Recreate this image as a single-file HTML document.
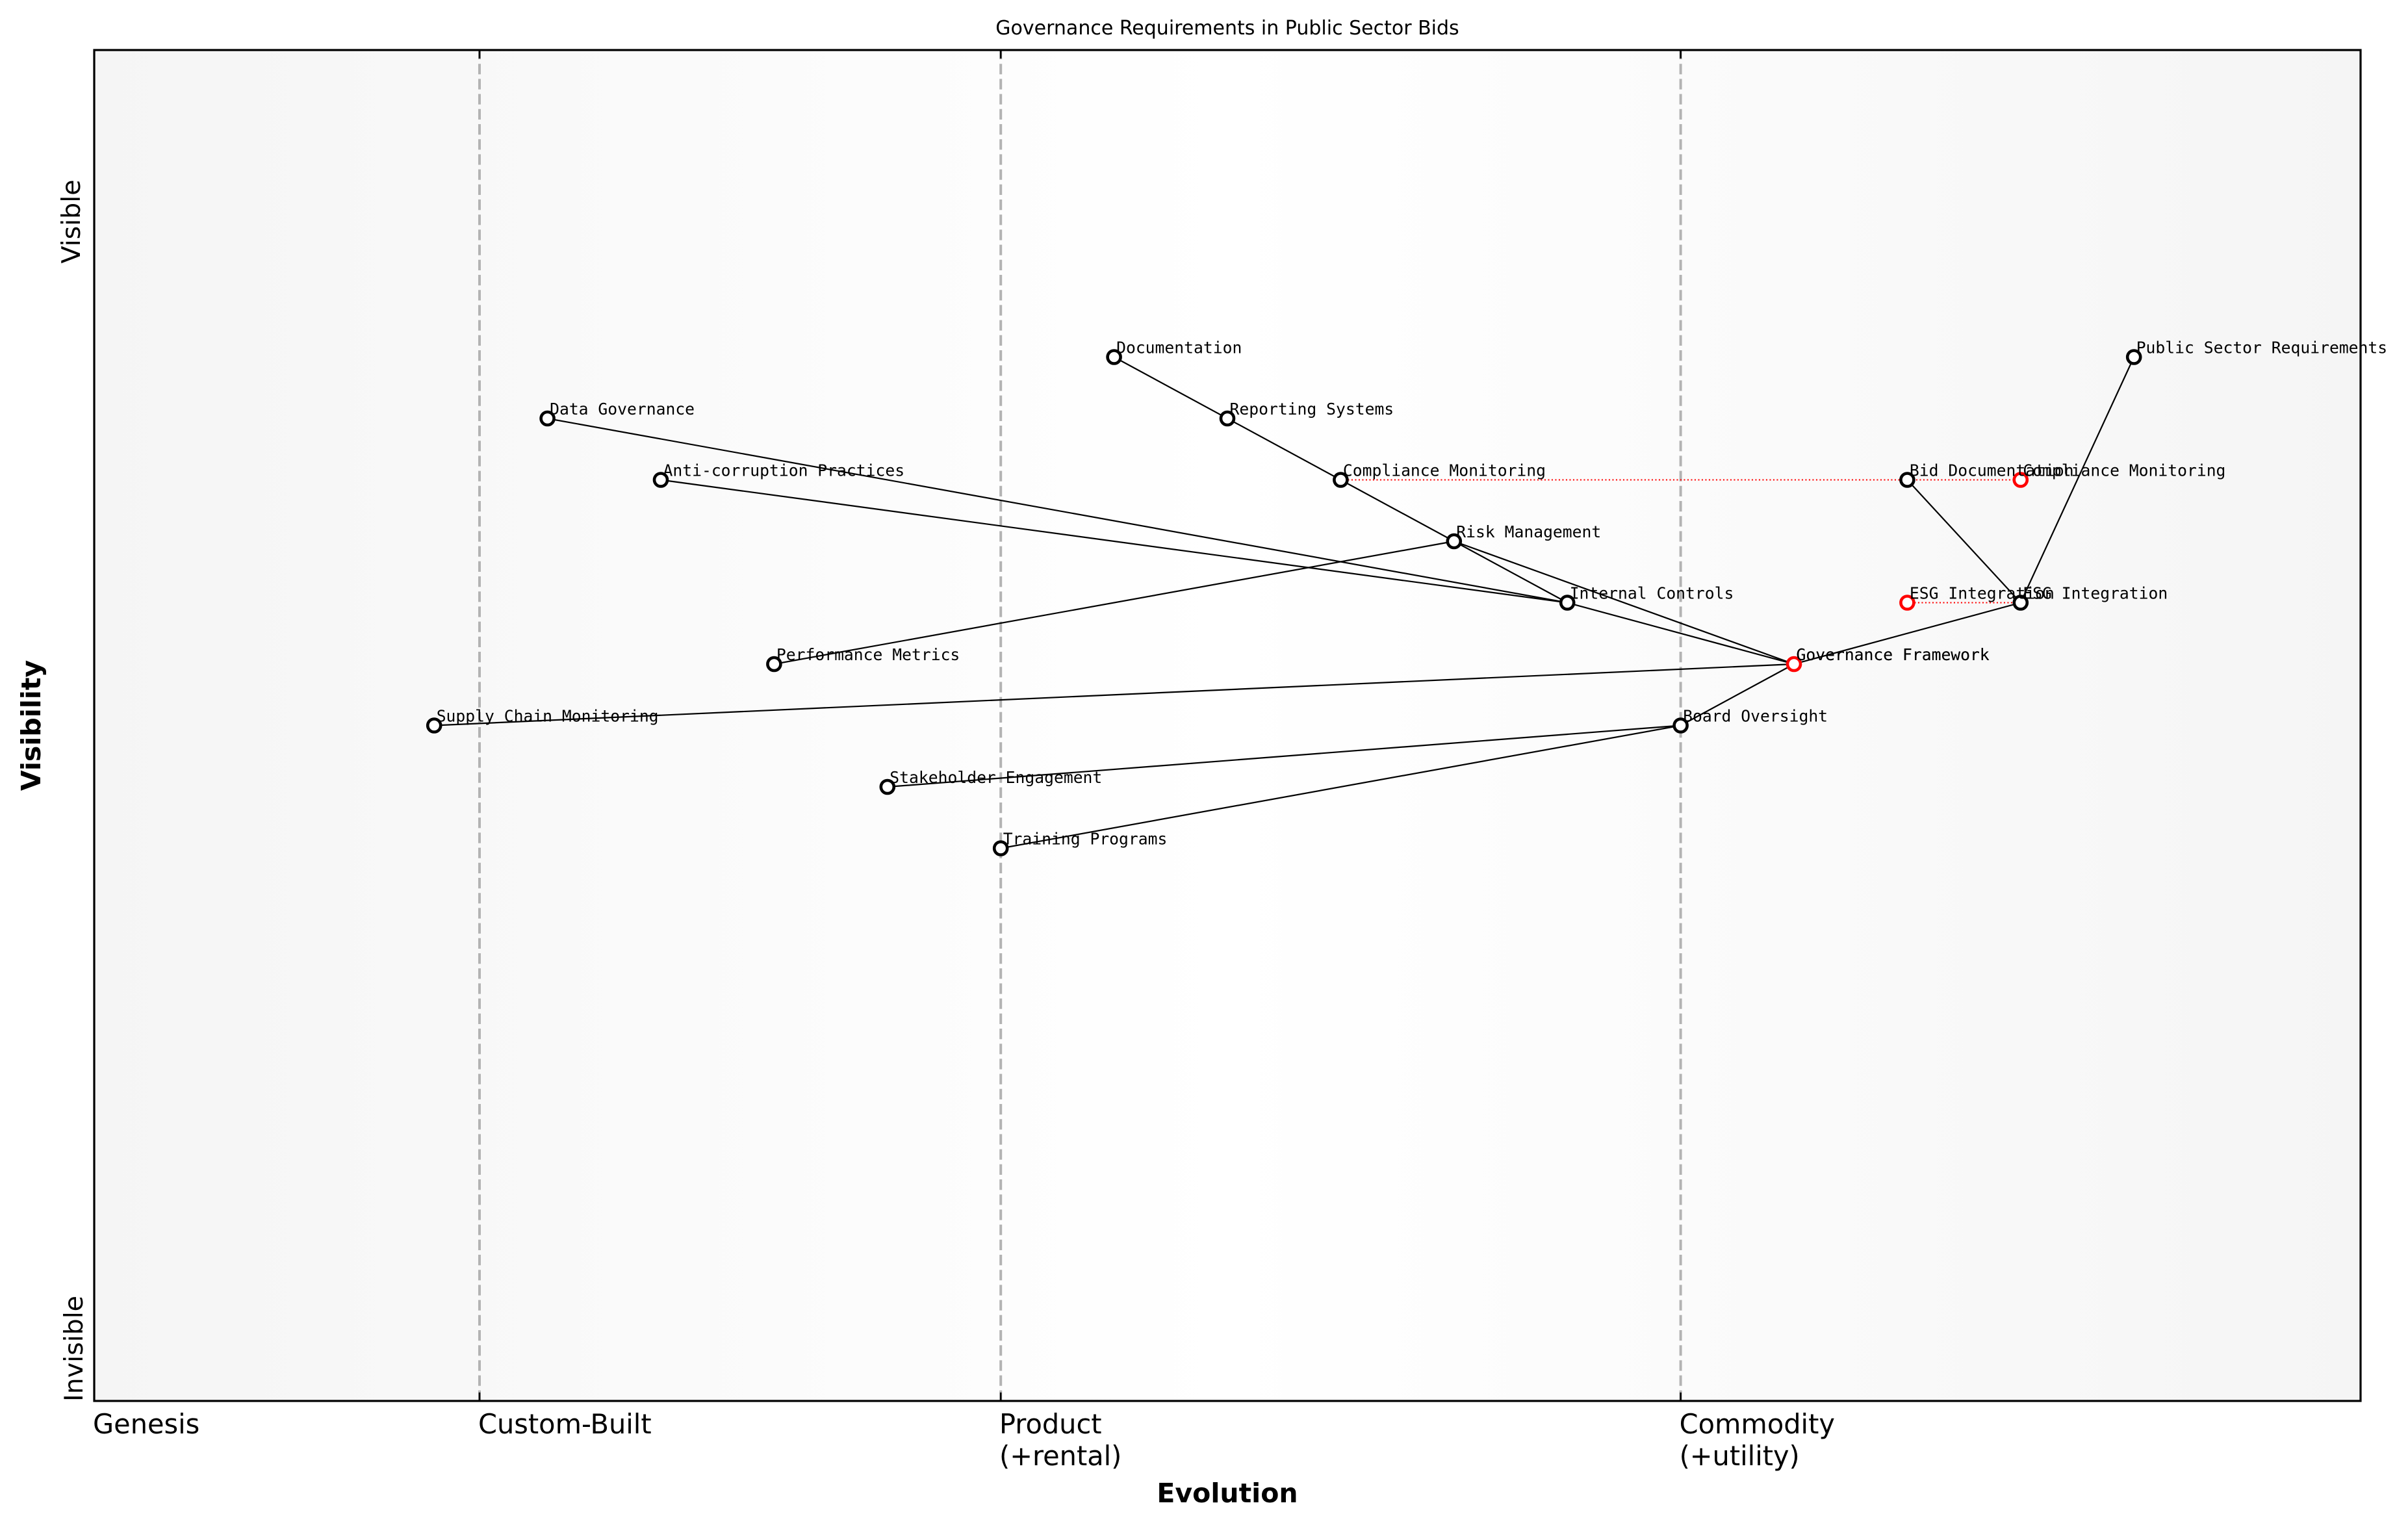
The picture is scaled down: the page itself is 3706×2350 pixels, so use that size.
<!DOCTYPE html>
<html>
<head>
<meta charset="utf-8">
<style>
  html, body { margin: 0; padding: 0; background: #ffffff; }
  svg { display: block; }
  .lbl { font-family: "DejaVu Sans Mono", "Liberation Mono", monospace; font-size: 24.7px; fill: #000; }
  .tick { font-family: "DejaVu Sans", "Liberation Sans", sans-serif; font-size: 41.5px; fill: #000; }
</style>
</head>
<body>
<svg width="3706" height="2350" viewBox="0 0 3706 2350" xmlns="http://www.w3.org/2000/svg">
  <defs>
    <linearGradient id="bg" x1="0" y1="0" x2="1" y2="0">
      <stop offset="0" stop-color="#f5f5f5"/>
      <stop offset="0.5" stop-color="#ffffff"/>
      <stop offset="1" stop-color="#f5f5f5"/>
    </linearGradient>
  </defs>
  <rect x="0" y="0" width="3706" height="2350" fill="#ffffff"/>
  <!-- plot background -->
  <rect x="145" y="77" width="3488" height="2079" fill="url(#bg)"/>

  <!-- evolution stage dashed lines -->
  <g stroke="#b3b3b3" stroke-width="4" stroke-dasharray="16.2 7" fill="none">
    <line x1="738" y1="2156" x2="738" y2="77"/>
    <line x1="1540.2" y1="2156" x2="1540.2" y2="77"/>
    <line x1="2586.6" y1="2156" x2="2586.6" y2="77"/>
  </g>

  <!-- dependency edges -->
  <g stroke="#000" stroke-width="2.2" fill="none" stroke-linecap="butt">
    <line x1="1714.6" y1="549.5" x2="1889" y2="644"/>
    <line x1="1889" y1="644" x2="2063.4" y2="738.5"/>
    <line x1="2063.4" y1="738.5" x2="2237.8" y2="833"/>
    <line x1="2237.8" y1="833" x2="2412.2" y2="927.5"/>
    <line x1="2237.8" y1="833" x2="2761" y2="1022"/>
    <line x1="2412.2" y1="927.5" x2="2761" y2="1022"/>
    <line x1="842.6" y1="644" x2="2412.2" y2="927.5"/>
    <line x1="1017" y1="738.5" x2="2412.2" y2="927.5"/>
    <line x1="1191.4" y1="1022" x2="2237.8" y2="833"/>
    <line x1="668.2" y1="1116.5" x2="2761" y2="1022"/>
    <line x1="1365.8" y1="1211" x2="2586.6" y2="1116.5"/>
    <line x1="1540.2" y1="1305.5" x2="2586.6" y2="1116.5"/>
    <line x1="2586.6" y1="1116.5" x2="2761" y2="1022"/>
    <line x1="2761" y1="1022" x2="3109.8" y2="927.5"/>
    <line x1="3109.8" y1="927.5" x2="3284.2" y2="549.5"/>
    <line x1="2935.4" y1="738.5" x2="3109.8" y2="927.5"/>
  </g>

  <!-- evolution (red dotted) -->
  <g stroke="#ff0000" stroke-width="2.1" stroke-dasharray="2.1 3.4" fill="none">
    <line x1="2063.4" y1="738.5" x2="3109.8" y2="738.5"/>
    <line x1="2935.4" y1="927.5" x2="3109.8" y2="927.5"/>
  </g>

  <!-- markers -->
  <g fill="#ffffff" stroke="#000" stroke-width="4.6">
    <circle cx="1714.6" cy="549.5" r="10"/>
    <circle cx="1889" cy="644" r="10"/>
    <circle cx="2063.4" cy="738.5" r="10"/>
    <circle cx="2237.8" cy="833" r="10"/>
    <circle cx="2412.2" cy="927.5" r="10"/>
    <circle cx="2586.6" cy="1116.5" r="10"/>
    <circle cx="842.6" cy="644" r="10"/>
    <circle cx="1017" cy="738.5" r="10"/>
    <circle cx="1191.4" cy="1022" r="10"/>
    <circle cx="668.2" cy="1116.5" r="10"/>
    <circle cx="1365.8" cy="1211" r="10"/>
    <circle cx="1540.2" cy="1305.5" r="10"/>
    <circle cx="2935.4" cy="738.5" r="10"/>
    <circle cx="3109.8" cy="927.5" r="10"/>
    <circle cx="3284.2" cy="549.5" r="10"/>
  </g>
  <g fill="#ffffff" stroke="#ff0000" stroke-width="4.6">
    <circle cx="2761" cy="1022" r="10"/>
    <circle cx="3109.8" cy="738.5" r="10"/>
    <circle cx="2935.4" cy="927.5" r="10"/>
  </g>

  <!-- component labels -->
  <g class="lbl">
    <text class="lbl" x="1718.1" y="543.7">Documentation</text>
    <text class="lbl" x="1892.5" y="638.2">Reporting Systems</text>
    <text class="lbl" x="2066.9" y="732.7">Compliance Monitoring</text>
    <text class="lbl" x="2241.3" y="827.2">Risk Management</text>
    <text class="lbl" x="2415.7" y="921.7">Internal Controls</text>
    <text class="lbl" x="2764.5" y="1016.2">Governance Framework</text>
    <text class="lbl" x="2764.5" y="1016.2">Governance Framework</text>
    <text class="lbl" x="2590.1" y="1110.7">Board Oversight</text>
    <text class="lbl" x="846.1" y="638.2">Data Governance</text>
    <text class="lbl" x="1020.5" y="732.7">Anti-corruption Practices</text>
    <text class="lbl" x="1194.9" y="1016.2">Performance Metrics</text>
    <text class="lbl" x="671.7" y="1110.7">Supply Chain Monitoring</text>
    <text class="lbl" x="1369.3" y="1205.2">Stakeholder Engagement</text>
    <text class="lbl" x="1543.7" y="1299.7">Training Programs</text>
    <text class="lbl" x="2938.9" y="732.7">Bid Documentation</text>
    <text class="lbl" x="3113.3" y="921.7">ESG Integration</text>
    <text class="lbl" x="3287.7" y="543.7">Public Sector Requirements</text>
    <text class="lbl" x="3113.3" y="732.7">Compliance Monitoring</text>
    <text class="lbl" x="2938.9" y="921.7">ESG Integration</text>
  </g>

  <!-- ticks (inward, top and bottom) -->
  <g stroke="#000" stroke-width="2.6">
    <line x1="738" y1="2156" x2="738" y2="2143"/>
    <line x1="1540.2" y1="2156" x2="1540.2" y2="2143"/>
    <line x1="2586.6" y1="2156" x2="2586.6" y2="2143"/>
    <line x1="738" y1="77" x2="738" y2="90"/>
    <line x1="1540.2" y1="77" x2="1540.2" y2="90"/>
    <line x1="2586.6" y1="77" x2="2586.6" y2="90"/>
  </g>

  <!-- spines -->
  <rect x="145" y="77" width="3488" height="2079" fill="none" stroke="#000" stroke-width="3.2"/>

  <!-- x tick labels -->
  <text class="tick" x="143" y="2206">Genesis</text>
  <text class="tick" x="736" y="2206">Custom-Built</text>
  <text class="tick" x="1538" y="2206">Product</text>
  <text class="tick" x="1538" y="2255">(+rental)</text>
  <text class="tick" x="2584.6" y="2206">Commodity</text>
  <text class="tick" x="2584.6" y="2255">(+utility)</text>

  <!-- y side labels -->
  <text transform="translate(123,341) rotate(-90)" text-anchor="middle" font-family="DejaVu Sans, Liberation Sans, sans-serif" font-size="39.5" fill="#000">Visible</text>
  <text transform="translate(127,2075.5) rotate(-90)" text-anchor="middle" font-family="DejaVu Sans, Liberation Sans, sans-serif" font-size="39.5" fill="#000">Invisible</text>

  <!-- axis labels -->
  <text x="1889" y="2312" text-anchor="middle" font-family="DejaVu Sans, Liberation Sans, sans-serif" font-size="41" font-weight="bold" fill="#000">Evolution</text>
  <text transform="translate(62,1116.5) rotate(-90)" text-anchor="middle" font-family="DejaVu Sans, Liberation Sans, sans-serif" font-size="41" font-weight="bold" fill="#000">Visibility</text>

  <!-- title -->
  <text x="1889" y="53" text-anchor="middle" font-family="DejaVu Sans, Liberation Sans, sans-serif" font-size="30" fill="#000">Governance Requirements in Public Sector Bids</text>
</svg>
</body>
</html>
